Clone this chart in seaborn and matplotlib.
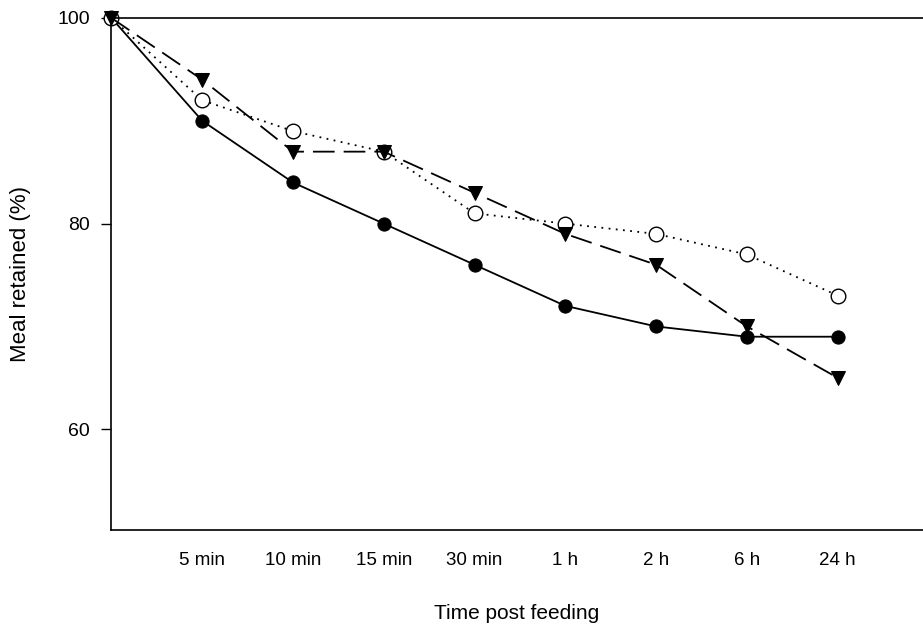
import matplotlib
matplotlib.use("Agg")
import matplotlib.pyplot as plt
import seaborn as sns
import pandas as pd

time_labels = ["0", "5 min", "10 min", "15 min", "30 min", "1 h", "2 h", "6 h", "24 h"]
solid_filled = [100, 90, 84, 80, 76, 72, 70, 69, 69]
dotted_open = [100, 92, 89, 87, 81, 80, 79, 77, 73]
dashed_triangle = [100, 94, 87, 87, 83, 79, 76, 70, 65]

sns.set_style("ticks")
plt.rcParams["font.family"] = ["Liberation Sans", "DejaVu Sans"]
plt.rcParams["text.color"] = "black"
plt.rcParams["axes.labelcolor"] = "black"
plt.rcParams["xtick.color"] = "black"
plt.rcParams["ytick.color"] = "black"

fig = plt.figure(figsize=(9.23, 6.26), dpi=100)
W, H = 923, 626
left_px, right_px, top_px, bottom_px = 111, 923, 18, 530
ax = fig.add_axes([left_px / W, 1 - bottom_px / H, (right_px - left_px) / W, (bottom_px - top_px) / H])

pos = list(range(len(time_labels)))
df = pd.DataFrame({"pos": pos, "a": solid_filled, "b": dotted_open, "c": dashed_triangle})

sns.lineplot(data=df, x="pos", y="a", ax=ax, color="black", lw=1.3, marker="o",
             markersize=9.5, markerfacecolor="black", markeredgecolor="black", clip_on=False)
sns.lineplot(data=df, x="pos", y="b", ax=ax, color="black", lw=1.3, linestyle=(0, (1, 3)), marker="o",
             markersize=10.5, markerfacecolor="white", markeredgecolor="black", markeredgewidth=1.0, clip_on=False)
sns.lineplot(data=df, x="pos", y="c", ax=ax, color="black", lw=1.3, linestyle=(0, (12, 5)), marker="v",
             markersize=9.5, markerfacecolor="black", markeredgecolor="black", clip_on=False)

ax.set_xlim(-0.005, 8.94)
ax.set_ylim(50.2, 100)
ax.set_yticks([60, 80, 100])
ax.set_yticklabels(["60", "80", "100"], fontsize=14, color="black")
ax.set_xticks(pos[1:])
ax.set_xticklabels(time_labels[1:], fontsize=13.5, color="black")
ax.tick_params(axis="x", length=0, pad=16)
ax.tick_params(axis="y", length=7, width=1, pad=8, direction="out", color="black")
ax.set_xlabel("Time post feeding", fontsize=15, labelpad=25, color="black")
ax.set_ylabel("Meal retained (%)", fontsize=16, labelpad=19, color="black")
for s in ["left", "bottom", "top"]:
    ax.spines[s].set_visible(True)
    ax.spines[s].set_linewidth(1.2)
    ax.spines[s].set_color("black")
ax.spines["right"].set_visible(False)

fig.savefig("out.png", dpi=100)
